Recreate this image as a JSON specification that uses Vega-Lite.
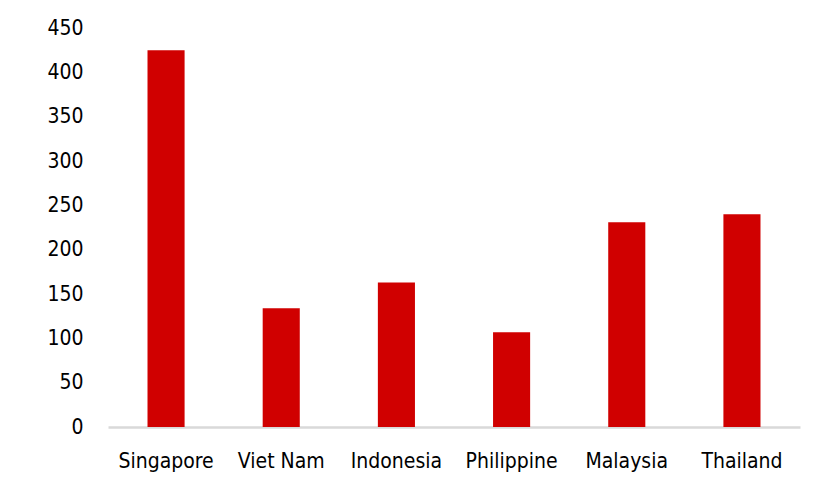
{
  "$schema": "https://vega.github.io/schema/vega-lite/v6.json",
  "autosize": "none",
  "width": 692,
  "height": 399,
  "padding": {"left": 108, "top": 28, "right": 30, "bottom": 59},
  "background": "white",
  "config": {"view": {"stroke": null}},
  "data": {"values": [
    {"country": "Singapore", "value": 425},
    {"country": "Viet Nam", "value": 134},
    {"country": "Indonesia", "value": 163},
    {"country": "Philippine", "value": 107},
    {"country": "Malaysia", "value": 231},
    {"country": "Thailand", "value": 240}
  ]},
  "mark": {"type": "bar", "color": "#d00000"},
  "encoding": {
    "x": {
      "field": "country", "type": "nominal", "sort": null,
      "scale": {"paddingInner": 0.678, "paddingOuter": 0.343},
      "axis": {
        "title": null, "labelAngle": 0, "ticks": false,
        "domainColor": "#d9d9d9", "domainWidth": 2.5,
        "labelFont": "DejaVu Sans Condensed, Roboto, sans-serif", "labelFontSize": 21,
        "labelColor": "#000000", "labelPadding": 23
      }
    },
    "y": {
      "field": "value", "type": "quantitative",
      "scale": {"domain": [0, 450]},
      "axis": {
        "title": null, "values": [0, 50, 100, 150, 200, 250, 300, 350, 400, 450],
        "grid": false, "domain": false, "ticks": false,
        "labelFont": "DejaVu Sans Condensed, Roboto, sans-serif", "labelFontSize": 21,
        "labelColor": "#000000", "labelPadding": 25
      }
    }
  }
}
